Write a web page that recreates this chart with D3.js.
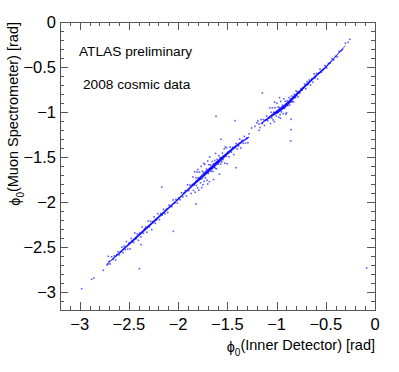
<!DOCTYPE html>
<html>
<head>
<meta charset="utf-8">
<script src="https://cdn.jsdelivr.net/npm/d3@7"></script>
<style>
  body { margin: 0; background: #fff; }
  text { font-family: "Liberation Sans", Arial, Helvetica, sans-serif; fill: #000; }
</style>
</head>
<body>
<div id="chart"></div>
<script>
// axis ticks
const majorTicks = [-3, -2.5, -2, -1.5, -1, -0.5, 0];
const tickLabels = ["\u22123", "\u22122.5", "\u22122", "\u22121.5", "\u22121", "\u22120.5", "0"];

// dense core of the correlation band (centre y and half width, rad)
const coreLowX = [-2.72, -2.5, -2.2, -2.0, -1.85, -1.7, -1.55, -1.4, -1.28];
const coreLowY = [-2.69, -2.47, -2.17, -1.97, -1.81, -1.66, -1.51, -1.37, -1.28];
const coreLowW = [0.006, 0.014, 0.014, 0.011, 0.016, 0.024, 0.02, 0.014, 0.007];
const coreUpX = [-1.16, -1.05, -0.92, -0.8, -0.65, -0.5, -0.38, -0.3];
const coreUpY = [-1.13, -1.04, -0.94, -0.81, -0.65, -0.50, -0.36, -0.26];
const coreUpW = [0.007, 0.016, 0.022, 0.017, 0.014, 0.011, 0.007, 0.004];

// scattered tracks, lower branch [phi0 ID, phi0 MS]
const lowerPts = [
  [-2.98,-2.963],[-2.878,-2.859],[-2.855,-2.844],[-2.76,-2.759],[-2.724,-2.70],[-2.71,-2.69],
  [-2.70,-2.658],[-2.69,-2.688],[-2.675,-2.609],[-2.66,-2.638],[-2.648,-2.598],[-2.635,-2.645],[-2.622,-2.588],
  [-2.61,-2.552],[-2.597,-2.587],[-2.585,-2.559],[-2.572,-2.502],[-2.56,-2.562],
  [-2.548,-2.490],[-2.537,-2.528],[-2.525,-2.439],[-2.512,-2.524],[-2.50,-2.456],[-2.488,-2.521],[-2.476,-2.404],
  [-2.465,-2.435],[-2.452,-2.450],[-2.44,-2.344],[-2.428,-2.409],[-2.415,-2.354],[-2.403,-2.426],[-2.39,-2.343],
  [-2.378,-2.387],[-2.366,-2.277],[-2.353,-2.348],[-2.341,-2.301],[-2.33,-2.279],[-2.318,-2.337],[-2.305,-2.212],
  [-2.293,-2.277],[-2.28,-2.215],[-2.268,-2.308],[-2.256,-2.219],[-2.244,-2.165],[-2.232,-2.237],[-2.22,-2.197],
  [-2.205,-2.130],[-2.19,-2.196],[-2.176,-2.128],[-2.162,-2.146],[-2.148,-2.082],[-2.134,-2.131],[-2.12,-2.081],
  [-2.106,-2.117],[-2.092,-2.035],[-2.078,-2.048],[-2.064,-2.052],[-2.05,-1.977],[-2.036,-2.013],[-2.022,-1.972],
  [-2.008,-2.012],[-1.994,-1.953],[-1.98,-1.975],[-1.966,-1.898],
  [-1.952,-1.944],[-1.94,-1.897],[-1.928,-1.874],[-1.916,-1.932],[-1.904,-1.808],[-1.892,-1.873],[-1.88,-1.812],
  [-1.868,-1.905],
  [-1.856,-1.805],[-1.850,-1.721],[-1.844,-1.871],[-1.838,-1.813],[-1.832,-1.664],[-1.826,-1.892],[-1.820,-1.730],
  [-1.814,-1.815],[-1.808,-1.666],[-1.802,-1.842],[-1.796,-1.732],[-1.790,-1.869],[-1.784,-1.668],[-1.778,-1.740],
  [-1.772,-1.786],[-1.766,-1.605],[-1.760,-1.742],[-1.754,-1.658],[-1.748,-1.808],[-1.742,-1.672],[-1.736,-1.770],
  [-1.730,-1.582],[-1.724,-1.732],[-1.718,-1.661],[-1.712,-1.635],[-1.706,-1.759],[-1.700,-1.545],[-1.694,-1.682],
  [-1.688,-1.585],[-1.682,-1.774],[-1.676,-1.632],[-1.670,-1.587],[-1.664,-1.659],[-1.658,-1.627],[-1.652,-1.549],
  [-1.646,-1.660],[-1.640,-1.576],[-1.634,-1.616],[-1.628,-1.538],[-1.622,-1.623],[-1.616,-1.565],[-1.610,-1.631],
  [-1.604,-1.527],[-1.598,-1.557],[-1.592,-1.580],[-1.586,-1.486],[-1.580,-1.552],[-1.574,-1.507],[-1.568,-1.579],
  [-1.562,-1.508],[-1.556,-1.554],[-1.550,-1.457],[-1.544,-1.529],[-1.538,-1.490],[-1.532,-1.410],[-1.526,-1.569],
  [-1.520,-1.388],[-1.514,-1.492],[-1.508,-1.399],[-1.502,-1.575],
  [-1.495,-1.447],[-1.483,-1.497],[-1.471,-1.390],[-1.459,-1.446],[-1.447,-1.393],[-1.435,-1.473],[-1.423,-1.396],
  [-1.411,-1.350],[-1.399,-1.411],[-1.387,-1.377],[-1.375,-1.301],[-1.363,-1.399],[-1.351,-1.316],[-1.339,-1.348],
  [-1.327,-1.271],[-1.315,-1.345],[-1.303,-1.287],[-1.291,-1.342],[-1.279,-1.242],
  [-1.80,-1.64],[-1.74,-1.57],[-1.68,-1.50],[-1.62,-1.46],[-1.70,-1.80],[-1.64,-1.75],[-1.58,-1.69],[-1.76,-1.84]
];
// scattered tracks, upper branch
const upperPts = [
  [-1.22,-1.16],[-1.20,-1.12],[-1.19,-1.10],
  [-1.178,-1.133],[-1.167,-1.173],[-1.156,-1.084],[-1.145,-1.129],[-1.134,-1.085],[-1.123,-1.150],[-1.112,-1.086],
  [-1.101,-1.046],[-1.090,-1.097],[-1.079,-1.068],
  [-1.068,-0.953],[-1.0615,-1.128],[-1.055,-1.003],[-1.0485,-1.068],[-1.042,-0.953],[-1.0355,-1.088],[-1.029,-1.003],
  [-1.0225,-1.108],[-1.016,-0.953],[-1.0095,-1.008],[-1.003,-1.043],[-0.9965,-0.903],[-0.990,-1.008],[-0.9835,-0.943],
  [-0.977,-1.058],[-0.9705,-0.953],[-0.964,-1.028],[-0.9575,-0.883],[-0.951,-0.998],[-0.9445,-0.943],[-0.938,-0.923],
  [-0.9315,-1.018],[-0.925,-0.853],[-0.9185,-0.958],[-0.912,-0.882],[-0.9055,-1.025],[-0.899,-0.913],[-0.8925,-0.876],
  [-0.886,-0.929],[-0.8795,-0.902],[-0.873,-0.840],[-0.8665,-0.923],[-0.860,-0.856],[-0.8535,-0.885],[-0.847,-0.823],
  [-0.8405,-0.886],[-0.834,-0.839],[-0.8275,-0.887],[-0.821,-0.805],[-0.8145,-0.826],[-0.808,-0.841],[-0.8015,-0.766],
  [-0.795,-0.815],[-0.7885,-0.778],[-0.782,-0.832],
  [-0.775,-0.781],[-0.763,-0.788],[-0.751,-0.740],[-0.739,-0.758],[-0.727,-0.732],[-0.715,-0.691],[-0.703,-0.741],
  [-0.691,-0.662],[-0.679,-0.691],[-0.667,-0.645],[-0.655,-0.702],[-0.643,-0.632],[-0.631,-0.669],[-0.619,-0.576],
  [-0.607,-0.619],[-0.595,-0.571],[-0.583,-0.634],[-0.571,-0.566],[-0.559,-0.524],
  [-0.545,-0.558],[-0.527,-0.530],[-0.509,-0.484],[-0.491,-0.511],[-0.473,-0.460],[-0.455,-0.457],[-0.437,-0.408],
  [-0.419,-0.422],[-0.401,-0.381],[-0.383,-0.387],[-0.365,-0.327],[-0.347,-0.320],[-0.329,-0.306],[-0.300,-0.236],
  [-0.272,-0.226],[-0.255,-0.193],
  [-1.02,-0.89],[-0.97,-0.84],[-0.96,-1.07],[-0.90,-1.01]
];
// isolated outliers
const outlierPts = [
  [-2.709,-2.604],[-2.394,-2.741],[-2.049,-2.326],[-2.167,-1.833],[-1.818,-2.022],[-1.564,-1.304],[-1.412,-1.619],
  [-1.615,-1.048],[-1.422,-1.096],[-1.253,-1.178],[-1.144,-0.789],[-0.853,-1.081],[-0.853,-1.196],[-0.857,-1.322],
  [-0.085,-2.733],[-1.178,-1.204],[-2.472,-2.444],[-2.377,-2.474]
];

const width = 399, height = 372;
const pLeft = 60, pRight = 375, pTop = 22, pBottom = 310;

const svg = d3.select("#chart").append("svg")
  .attr("width", width)
  .attr("height", height);

const x = d3.scaleLinear().domain([-3.2, 0]).range([pLeft, pRight]);
const y = d3.scaleLinear().domain([-3.2, 0]).range([pBottom, pTop]);

const plot = svg.append("g");

// core band as filled areas
function coreArea(xs, ys, ws) {
  const d = xs.map((v, i) => ({x: v, y: ys[i], w: ws[i]}));
  const area = d3.area()
    .x(p => x(p.x))
    .y0(p => y(p.y - p.w))
    .y1(p => y(p.y + p.w))
    .curve(d3.curveCatmullRom);
  plot.append("path")
    .attr("d", area(d))
    .attr("fill", "#0000ff")
    .attr("fill-opacity", 0.9);
}
coreArea(coreLowX, coreLowY, coreLowW);
coreArea(coreUpX, coreUpY, coreUpW);

// scatter points
const allPts = lowerPts.concat(upperPts, outlierPts);
plot.append("g")
  .selectAll("rect")
  .data(allPts)
  .enter()
  .append("rect")
  .attr("x", d => x(d[0]) - 0.8)
  .attr("y", d => y(d[1]) - 0.8)
  .attr("width", 1.6)
  .attr("height", 1.6)
  .attr("fill", "#0000ff")
  .attr("fill-opacity", 0.65);

// frame
const axisColor = "#555";
svg.append("rect")
  .attr("x", pLeft + 0.5).attr("y", pTop + 0.5)
  .attr("width", pRight - pLeft).attr("height", pBottom - pTop)
  .attr("fill", "none").attr("stroke", axisColor);

// ticks on all four sides
const minorTicks = d3.range(-32, 1).map(v => v / 10);
const ticks = svg.append("g").attr("stroke", axisColor).attr("shape-rendering", "crispEdges");
minorTicks.forEach(v => {
  const len = majorTicks.some(m => Math.abs(m - v) < 1e-6) ? 8 : 4;
  const px = Math.round(x(v)) + 0.5, py = Math.round(y(v)) + 0.5;
  ticks.append("line").attr("x1", px).attr("x2", px).attr("y1", pBottom).attr("y2", pBottom - len);
  ticks.append("line").attr("x1", px).attr("x2", px).attr("y1", pTop).attr("y2", pTop + len);
  ticks.append("line").attr("y1", py).attr("y2", py).attr("x1", pLeft).attr("x2", pLeft + len);
  ticks.append("line").attr("y1", py).attr("y2", py).attr("x1", pRight).attr("x2", pRight - len);
});

// tick labels
svg.append("g").selectAll("text")
  .data(majorTicks)
  .enter().append("text")
  .attr("x", d => x(d))
  .attr("y", 330)
  .attr("text-anchor", "middle")
  .attr("font-size", "16.5px")
  .text((d, i) => tickLabels[i]);

svg.append("g").selectAll("text")
  .data(majorTicks)
  .enter().append("text")
  .attr("x", 56)
  .attr("y", d => y(d))
  .attr("dy", "0.36em")
  .attr("text-anchor", "end")
  .attr("font-size", "16.5px")
  .text((d, i) => tickLabels[i]);

// axis titles
function phiTitle(sel, rest) {
  sel.append("tspan").text("\u03d5");
  sel.append("tspan").attr("font-size", "10px").attr("dy", "0.35em").text("0");
  sel.append("tspan").attr("dy", "-0.35em").text(rest);
}
const xt = svg.append("text")
  .attr("x", pRight).attr("y", 352)
  .attr("text-anchor", "end")
  .attr("font-size", "14.5px");
phiTitle(xt, "(Inner Detector) [rad]");

const yt = svg.append("text")
  .attr("transform", `translate(20,${pTop}) rotate(-90)`)
  .attr("text-anchor", "end")
  .attr("font-size", "14.5px");
phiTitle(yt, "(Muon Spectrometer) [rad]");

// labels
svg.append("text").attr("x", 79).attr("y", 56).attr("font-size", "13.7px").text("ATLAS preliminary");
svg.append("text").attr("x", 83).attr("y", 89).attr("font-size", "13.7px").text("2008 cosmic data");
</script>
</body>
</html>
